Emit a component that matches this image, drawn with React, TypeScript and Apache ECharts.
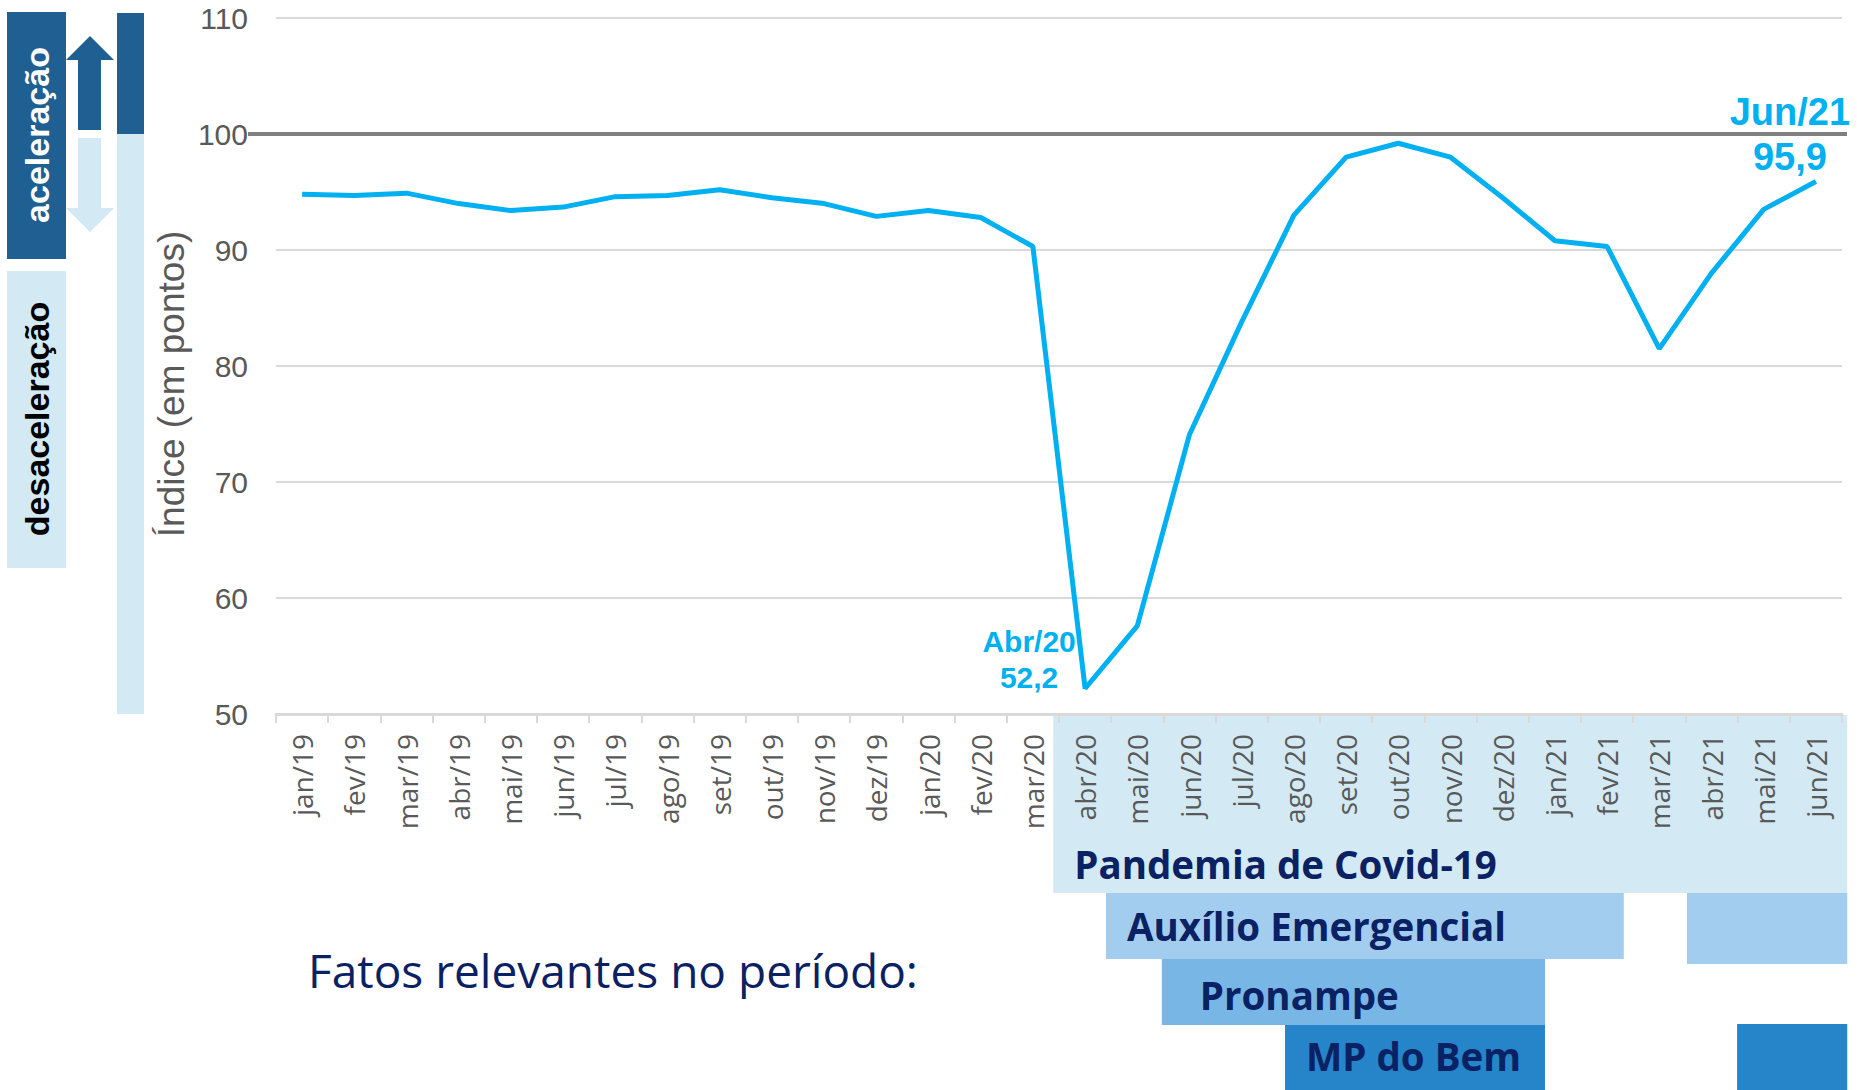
import React, { useEffect, useRef } from 'react';
import * as echarts from 'echarts';

// ---------- DATA ----------
const categories = [
  'jan/19', 'fev/19', 'mar/19', 'abr/19', 'mai/19', 'jun/19', 'jul/19', 'ago/19', 'set/19', 'out/19',
  'nov/19', 'dez/19', 'jan/20', 'fev/20', 'mar/20', 'abr/20', 'mai/20', 'jun/20', 'jul/20', 'ago/20',
  'set/20', 'out/20', 'nov/20', 'dez/20', 'jan/21', 'fev/21', 'mar/21', 'abr/21', 'mai/21', 'jun/21',
];
const indexValues = [
  94.8, 94.7, 94.9, 94.0, 93.4, 93.7, 94.6, 94.7, 95.2, 94.5,
  94.0, 92.9, 93.4, 92.8, 90.3, 52.2, 57.6, 74.1, 83.8, 93.0,
  98.0, 99.2, 98.0, 94.5, 90.8, 90.3, 81.5, 88.0, 93.5, 95.9,
];
const yMin = 50;
const yMax = 110;
const yInterval = 10;
const referenceValue = 100;

// relevant facts (periods in month units along the time axis)
const eventNames = ['Pandemia de Covid-19', 'Auxílio Emergencial', '', 'Pronampe', 'MP do Bem', ''];
const eventStart = [14.89, 15.9, 27.03, 16.97, 19.33, 27.99];
const eventEnd = [30.1, 25.82, 30.1, 24.31, 24.31, 30.1];

const axisTitle = 'Índice (em pontos)';
const factsTitle = 'Fatos relevantes no período:';
const upLabel = 'aceleração';
const downLabel = 'desaceleração';

// ---------- STYLES ----------
const LINE_COLOR = '#00B0F0';
const NAVY = '#0A2163';
const DARK_BLUE = '#1F5F91';
const PALE_BLUE = '#D3E9F3';
const BOX_STYLE = [
  { top: 715, bottom: 893, color: '#D3E9F3', pad: 21, textY: 864 },
  { top: 893, bottom: 959, color: '#A3CDEE', pad: 21, textY: 926 },
  { top: 893, bottom: 964, color: '#A3CDEE', pad: 0, textY: 0 },
  { top: 959, bottom: 1025, color: '#77B6E5', pad: 38, textY: 995 },
  { top: 1025, bottom: 1090, color: '#2684C9', pad: 21, textY: 1056 },
  { top: 1024, bottom: 1090, color: '#2684C9', pad: 0, textY: 0 },
];

const fmt = (v: number) => v.toFixed(1).replace('.', ',');
const cap = (s: string) => s.charAt(0).toUpperCase() + s.slice(1);

function buildOption() {
  const minIdx = indexValues.indexOf(Math.min(...indexValues));
  const lastIdx = indexValues.length - 1;

  return {
    animation: false,
    backgroundColor: '#ffffff',
    grid: { left: 276, right: 15, top: 18, bottom: 376, containLabel: false },
    xAxis: [
      {
        type: 'category',
        data: categories,
        boundaryGap: true,
        axisLine: { show: true, lineStyle: { color: '#D9D9D9', width: 3 } },
        axisTick: { show: true, interval: 0, length: 9, lineStyle: { color: '#D9D9D9', width: 2 } },
        axisLabel: {
          interval: 0,
          rotate: 90,
          margin: 20,
          color: '#595959',
          fontSize: 28,
          fontFamily: 'Open Sans, sans-serif',
        },
        splitLine: { show: false },
      },
      { type: 'value', min: 0, max: 30, show: false },
    ],
    yAxis: {
      type: 'value',
      min: yMin,
      max: yMax,
      interval: yInterval,
      axisLine: { show: false },
      axisTick: { show: false },
      axisLabel: {
        margin: 28,
        color: '#595959',
        fontSize: 30,
        fontFamily: 'Liberation Sans, Arial, sans-serif',
      },
      splitLine: { show: true, lineStyle: { color: '#D9D9D9', width: 2 } },
    },
    series: [
      {
        type: 'custom',
        xAxisIndex: 1,
        yAxisIndex: 0,
        z: -1,
        clip: false,
        silent: true,
        data: eventStart.map((s, i) => [s, eventEnd[i], i]),
        renderItem: (params: any, api: any) => {
          const i = params.dataIndex;
          const st = BOX_STYLE[i];
          const x0 = api.coord([api.value(0), yMin])[0];
          const x1 = api.coord([api.value(1), yMin])[0];
          const children: any[] = [
            {
              type: 'rect',
              shape: { x: x0, y: st.top, width: x1 - x0, height: st.bottom - st.top },
              style: { fill: st.color },
            },
          ];
          if (eventNames[i]) {
            children.push({
              type: 'text',
              style: {
                text: eventNames[i],
                x: x0 + st.pad,
                y: st.textY,
                fill: NAVY,
                fontSize: 38.5,
                fontWeight: 'bold',
                fontFamily: 'Open Sans, sans-serif',
                align: 'left',
                verticalAlign: 'middle',
              },
            });
          }
          return { type: 'group', children };
        },
      },
      {
        type: 'line',
        data: indexValues,
        showSymbol: false,
        symbol: 'none',
        clip: false,
        lineStyle: { color: LINE_COLOR, width: 5 },
        z: 3,
        markLine: {
          silent: true,
          symbol: ['none', 'none'],
          label: { show: false },
          lineStyle: { color: '#808080', width: 4, type: 'solid' },
          data: [[{ x: 248, yAxis: referenceValue }, { x: 1847, yAxis: referenceValue }]],
        },
        markPoint: {
          silent: true,
          symbol: 'circle',
          symbolSize: 1,
          itemStyle: { color: 'rgba(0,0,0,0)' },
          data: [
            {
              coord: [minIdx, indexValues[minIdx]],
              label: {
                show: true,
                position: 'inside',
                offset: [-56, -29],
                formatter: `{a|${cap(categories[minIdx])}}\n{a|${fmt(indexValues[minIdx])}}`,
                rich: {
                  a: {
                    fontSize: 30,
                    fontWeight: 'bold',
                    fontFamily: 'Liberation Sans, Arial, sans-serif',
                    color: LINE_COLOR,
                    lineHeight: 36,
                    align: 'center',
                  },
                },
              },
            },
            {
              coord: [lastIdx, indexValues[lastIdx]],
              label: {
                show: true,
                position: 'inside',
                offset: [-26, -47],
                formatter: `{a|${cap(categories[lastIdx])}}\n{a|${fmt(indexValues[lastIdx])}}`,
                rich: {
                  a: {
                    fontSize: 38,
                    fontWeight: 'bold',
                    fontFamily: 'Liberation Sans, Arial, sans-serif',
                    color: LINE_COLOR,
                    lineHeight: 45,
                    align: 'center',
                  },
                },
              },
            },
          ],
        },
      },
    ],
    graphic: [
      // vertical indicator bar
      { type: 'rect', shape: { x: 117, y: 13, width: 27, height: 121 }, style: { fill: DARK_BLUE } },
      { type: 'rect', shape: { x: 117, y: 134, width: 27, height: 580 }, style: { fill: PALE_BLUE } },
      // aceleração box
      { type: 'rect', shape: { x: 7, y: 12, width: 59, height: 247 }, style: { fill: DARK_BLUE } },
      {
        type: 'text',
        x: 37,
        y: 135,
        rotation: Math.PI / 2,
        style: {
          text: upLabel,
          fill: '#ffffff',
          fontSize: 34,
          fontWeight: 'bold',
          fontFamily: 'Liberation Sans, Arial, sans-serif',
          align: 'center',
          verticalAlign: 'middle',
        },
      },
      // desaceleração box
      { type: 'rect', shape: { x: 7, y: 271, width: 59, height: 297 }, style: { fill: PALE_BLUE } },
      {
        type: 'text',
        x: 37,
        y: 419,
        rotation: Math.PI / 2,
        style: {
          text: downLabel,
          fill: '#000000',
          fontSize: 34,
          fontWeight: 'bold',
          fontFamily: 'Liberation Sans, Arial, sans-serif',
          align: 'center',
          verticalAlign: 'middle',
        },
      },
      // arrows
      {
        type: 'polygon',
        shape: { points: [[90, 36], [114, 60], [101, 60], [101, 130], [78, 130], [78, 60], [66, 60]] },
        style: { fill: DARK_BLUE },
      },
      {
        type: 'polygon',
        shape: { points: [[78, 138], [101, 138], [101, 208], [114, 208], [90, 232], [66, 208], [78, 208]] },
        style: { fill: PALE_BLUE },
      },
      // y axis title
      {
        type: 'text',
        x: 171,
        y: 384,
        rotation: Math.PI / 2,
        style: {
          text: axisTitle,
          fill: '#595959',
          fontSize: 37,
          fontFamily: 'Liberation Sans, Arial, sans-serif',
          align: 'center',
          verticalAlign: 'middle',
        },
      },
      // facts title
      {
        type: 'text',
        x: 308,
        y: 970,
        style: {
          text: factsTitle,
          fill: NAVY,
          fontSize: 46,
          fontFamily: 'Open Sans, sans-serif',
          align: 'left',
          verticalAlign: 'middle',
        },
      },
    ],
  };
}

export default function App() {
  const ref = useRef<HTMLDivElement>(null);
  useEffect(() => {
    if (!ref.current) return;
    const chart = echarts.init(ref.current, null, { renderer: 'svg' });
    chart.setOption(buildOption() as any);
    return () => chart.dispose();
  }, []);
  return (
    <div
      ref={ref}
      style={{ position: 'absolute', left: 0, top: 0, width: 1857, height: 1090, background: '#ffffff' }}
    />
  );
}
